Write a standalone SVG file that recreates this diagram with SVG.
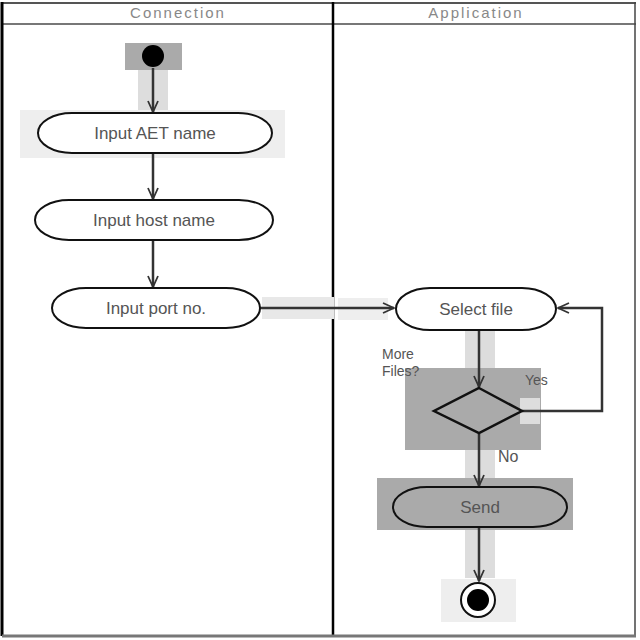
<svg xmlns="http://www.w3.org/2000/svg" width="640" height="640" viewBox="0 0 640 640">
<style>
.lbl{font-family:"Liberation Sans",Arial,sans-serif;font-size:17px;fill:#555;text-anchor:middle}
.hdr{font-family:"Liberation Sans",Arial,sans-serif;font-size:15px;fill:#888;text-anchor:middle;letter-spacing:2px}
.note{font-family:"Liberation Sans",Arial,sans-serif;font-size:14px;fill:#555}
.act{fill:#fff;stroke:#111;stroke-width:2}
.band{fill:#ddd}
.edge{fill:none;stroke:#333;stroke-width:2.5}
</style>
<defs>
<marker id="open" markerWidth="14" markerHeight="12" refX="12" refY="6" orient="auto" markerUnits="userSpaceOnUse">
<path d="M1,1 L12,6 L1,11" fill="none" stroke="#333" stroke-width="1.8"/>
</marker>
</defs>
<rect width="640" height="640" fill="#fff"/>
<g id="frame">
<line x1="2" y1="3" x2="636" y2="3" stroke="#555" stroke-width="2"/>
<line x1="3" y1="24" x2="636" y2="24" stroke="#777" stroke-width="2"/>
<line x1="2" y1="2" x2="2" y2="636" stroke="#000" stroke-width="3"/>
<line x1="333" y1="2" x2="333" y2="636" stroke="#000" stroke-width="2.5"/>
<line x1="635" y1="2" x2="635" y2="636" stroke="#444" stroke-width="1.5"/>
<line x1="2" y1="636" x2="636" y2="636" stroke="#777" stroke-width="3"/>
<text class="hdr" x="178" y="18">Connection</text>
<text class="hdr" x="476" y="18">Application</text>
</g>
<g id="highlights">
<rect x="125" y="43" width="57" height="27" fill="#aaa"/>
<rect x="138" y="70" width="30" height="40" class="band"/>
<rect x="20" y="110" width="265" height="48" fill="#eee"/>
<rect x="262" y="297" width="72" height="22" fill="#e8e8e8"/>
<rect x="338" y="298" width="50" height="22" fill="#eee"/>
<rect x="465" y="330" width="30" height="38" class="band"/>
<rect x="405" y="368" width="136" height="82" fill="#aaa"/>
<rect x="520" y="398" width="20" height="26" fill="#ddd"/>
<rect x="465" y="450" width="30" height="28" class="band"/>
<rect x="377" y="478" width="196" height="52" fill="#aaa"/>
<rect x="465" y="530" width="30" height="48" class="band"/>
<rect x="441" y="579" width="75" height="43" fill="#eee"/>
</g>
<g id="connectors">
<line class="edge" x1="153" y1="68" x2="153" y2="112" marker-end="url(#open)"/>
<line class="edge" x1="153" y1="154" x2="153" y2="199" marker-end="url(#open)"/>
<line class="edge" x1="153" y1="241" x2="153" y2="287" marker-end="url(#open)"/>
<line class="edge" x1="260" y1="308" x2="394" y2="308" marker-end="url(#open)"/>
<line class="edge" x1="479" y1="330" x2="479" y2="387" marker-end="url(#open)"/>
<polyline class="edge" points="522,411 602,411 602,308 558,308" marker-end="url(#open)"/>
<line class="edge" x1="479" y1="434" x2="479" y2="486" marker-end="url(#open)"/>
<line class="edge" x1="479" y1="528" x2="479" y2="581" marker-end="url(#open)"/>
<text class="note" x="382" y="359">More</text>
<text class="note" x="382" y="376">Files?</text>
<text class="note" x="525" y="385">Yes</text>
<text class="note" x="498" y="462" style="font-size:16px">No</text>
</g>
<g id="start">
<circle cx="153" cy="56" r="11" fill="#000"/>
</g>
<g id="input-aet">
<rect class="act" x="38" y="113" width="234" height="40" rx="34" ry="20"/>
<text class="lbl" x="155" y="139">Input AET name</text>
</g>
<g id="input-host">
<rect class="act" x="35" y="200" width="238" height="40" rx="34" ry="20"/>
<text class="lbl" x="154" y="226">Input host name</text>
</g>
<g id="input-port">
<rect class="act" x="52" y="288" width="208" height="40" rx="34" ry="20"/>
<text class="lbl" x="156" y="314">Input port no.</text>
</g>
<g id="select-file">
<rect class="act" x="396" y="288" width="160" height="42" rx="34" ry="21"/>
<text class="lbl" x="476" y="315">Select file</text>
</g>
<g id="decision">
<polygon points="479,388 522,411 479,433 434,411" fill="#aaa" stroke="#111" stroke-width="2.5"/>
</g>
<g id="send">
<rect x="393" y="487" width="174" height="40" rx="34" ry="20" fill="#aaa" stroke="#111" stroke-width="2"/>
<text class="lbl" x="480" y="513">Send</text>
</g>
<g id="end">
<circle cx="478" cy="600" r="17" fill="#fff" stroke="#111" stroke-width="2"/>
<circle cx="478" cy="600" r="11" fill="#000"/>
</g>
</svg>
